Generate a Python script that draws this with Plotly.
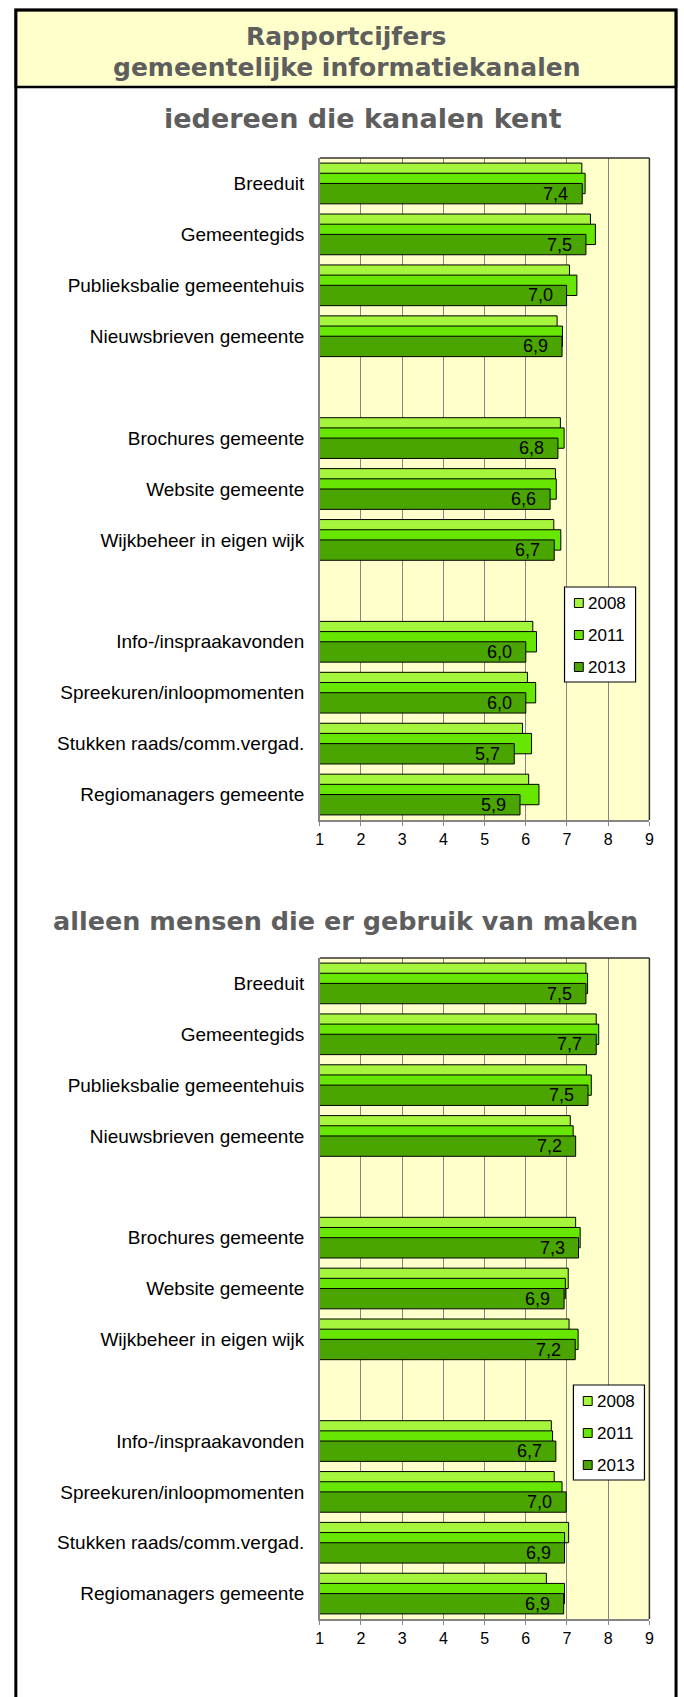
import plotly.graph_objects as go

# ---------------- data ----------------
categories = [
    "Breeduit", "Gemeentegids", "Publieksbalie gemeentehuis", "Nieuwsbrieven gemeente", "",
    "Brochures gemeente", "Website gemeente", "Wijkbeheer in eigen wijk", "",
    "Info-/inspraakavonden", "Spreekuren/inloopmomenten", "Stukken raads/comm.vergad.",
    "Regiomanagers gemeente",
]
years = ["2008", "2011", "2013"]

# panel 1: iedereen die kanalen kent
top_2008 = [7.36, 7.57, 7.06, 6.76, None, 6.84, 6.72, 6.68, None, 6.17, 6.04, 5.92, 6.07]
top_2011 = [7.44, 7.69, 7.24, 6.89, None, 6.93, 6.74, 6.85, None, 6.26, 6.24, 6.14, 6.32]
top_2013 = [7.37, 7.46, 6.99, 6.88, None, 6.78, 6.59, 6.69, None, 6.00, 6.00, 5.72, 5.86]

# panel 2: alleen mensen die er gebruik van maken
bot_2008 = [7.46, 7.71, 7.47, 7.08, None, 7.21, 7.03, 7.05, None, 6.62, 6.69, 7.04, 6.50]
bot_2011 = [7.50, 7.77, 7.59, 7.15, None, 7.32, 6.96, 7.27, None, 6.65, 6.88, 6.94, 6.94]
bot_2013 = [7.46, 7.71, 7.51, 7.21, None, 7.28, 6.93, 7.20, None, 6.73, 6.98, 6.94, 6.92]

x_ticks = [1, 2, 3, 4, 5, 6, 7, 8, 9]

title_lines = ["Rapportcijfers", "gemeentelijke informatiekanalen"]
subtitles = ["iedereen die kanalen kent", "alleen mensen die er gebruik van maken"]

# ---------------- styling ----------------
W, H = 684, 1697
def px(x):
    return x / W
def py(y):
    return 1 - y / H

colors = ["#A4F53C", "#66E600", "#4BA500"]
offsets = [-0.4, -0.2, 0.0]
BAR_W = 0.4
LABEL_FONT = "Liberation Sans, Arial, sans-serif"
TITLE_FONT = "DejaVu Sans, Verdana, sans-serif"
TITLE_COLOR = "#5E5E5E"
GRID = "#858585"

pos = list(range(len(categories)))
tick_pos = [p for p, c in zip(pos, categories) if c]
tick_txt = [c for c in categories if c]

fig = go.Figure()

panels = [
    dict(series=[top_2008, top_2011, top_2013], xa="x", ya="y",
         dom=(py(820), py(158)), sub_xy=(364, 118), sub_size=27, leg_box=(568, 587, 640, 682)),
    dict(series=[bot_2008, bot_2011, bot_2013], xa="x2", ya="y2",
         dom=(py(1619), py(958)), sub_xy=(346.5, 921), sub_size=25.5, leg_box=(577, 1385, 649, 1480)),
]

annotations = []
shapes = []
for k, p in enumerate(panels):
    for yr, vals, off, col in zip(years, p["series"], offsets, colors):
        fig.add_trace(go.Bar(
            y=pos, x=vals, orientation="h", offset=off, width=BAR_W,
            marker=dict(color=col, line=dict(color="black", width=1)),
            name=yr, showlegend=False,
            xaxis=p["xa"], yaxis=p["ya"], hoverinfo="skip",
        ))
    # data labels for the last year
    for i, v in enumerate(p["series"][2]):
        if v is None:
            continue
        annotations.append(dict(
            x=v, y=i + offsets[2] + BAR_W / 2, xref=p["xa"], yref=p["ya"],
            text=f"{v:.1f}".replace(".", ","), showarrow=False,
            xanchor="right", yanchor="middle", xshift=-12,
            font=dict(family=LABEL_FONT, size=18, color="black"),
        ))
    # subtitle
    annotations.append(dict(
        x=px(p["sub_xy"][0]), y=py(p["sub_xy"][1]), xref="paper", yref="paper",
        text=subtitles[k], showarrow=False, xanchor="center", yanchor="middle",
        font=dict(family=TITLE_FONT, size=p["sub_size"], color=TITLE_COLOR, weight="bold"),
    ))
    # legend box
    lx0, ly0, lx1, ly1 = p["leg_box"]
    shapes.append(dict(type="rect", xref="paper", yref="paper",
                       x0=px(lx0), x1=px(lx1), y0=py(ly1), y1=py(ly0),
                       fillcolor="white", line=dict(color="black", width=1.2), layer="above"))
    for j, (yr, col) in enumerate(zip(years, colors)):
        cy = ly0 + 16 + 32 * j
        shapes.append(dict(type="rect", xref="paper", yref="paper",
                           x0=px(lx0 + 10), x1=px(lx0 + 19), y0=py(cy + 4.5), y1=py(cy - 4.5),
                           fillcolor=col, line=dict(color="black", width=1), layer="above"))
        annotations.append(dict(
            x=px(lx0 + 22), y=py(cy), xref="paper", yref="paper", text=yr,
            showarrow=False, xanchor="left", yanchor="middle",
            font=dict(family=LABEL_FONT, size=17, color="black"),
        ))

for line, yy in zip(title_lines, [36, 68]):
    annotations.append(dict(
        x=px(347), y=py(yy), xref="paper", yref="paper", text=line,
        showarrow=False, xanchor="center", yanchor="middle",
        font=dict(family=TITLE_FONT, size=25, color=TITLE_COLOR, weight="bold"),
    ))

shapes += [
    # title box
    dict(type="rect", xref="paper", yref="paper", x0=px(12), x1=px(681), y0=py(87), y1=py(10),
         fillcolor="#FFFFCC", line=dict(color="black", width=2.5), layer="below"),
    # outer frame
    dict(type="rect", xref="paper", yref="paper", x0=px(12), x1=px(681), y0=py(1710), y1=py(10),
         fillcolor="rgba(0,0,0,0)", line=dict(color="black", width=3), layer="above"),
]
for ax in ["", "2"]:
    shapes.append(dict(type="line", xref=f"x{ax} domain", yref=f"y{ax} domain",
                       x0=0, x1=1, y0=1, y1=1, line=dict(color="#333333", width=1.5)))
    shapes.append(dict(type="line", xref=f"x{ax} domain", yref=f"y{ax} domain",
                       x0=1, x1=1, y0=0, y1=1, line=dict(color="#333333", width=1.5)))

xaxis_common = dict(
    range=[1, 9], tickvals=x_ticks, showgrid=True, gridcolor=GRID, gridwidth=1,
    showline=True, linecolor=GRID, linewidth=1.5, ticks="outside", ticklen=4,
    tickcolor=GRID, tickwidth=1, zeroline=False, fixedrange=True,
    tickfont=dict(family=LABEL_FONT, size=16, color="black"),
    domain=[px(320), px(654)],
)
yaxis_common = dict(
    range=[12.5, -0.5], tickvals=tick_pos, ticktext=tick_txt, showgrid=False,
    showline=True, linecolor=GRID, linewidth=1.5, ticks="", zeroline=False,
    fixedrange=True, ticklabelstandoff=10,
    tickfont=dict(family=LABEL_FONT, size=19, color="black"),
)

fig.update_layout(
    width=W, height=H, margin=dict(l=0, r=0, t=0, b=0),
    paper_bgcolor="white", plot_bgcolor="#FFFFCC",
    barmode="overlay", showlegend=False,
    xaxis=dict(**xaxis_common, anchor="y"),
    yaxis=dict(**yaxis_common, anchor="x", domain=list(panels[0]["dom"])),
    xaxis2=dict(**xaxis_common, anchor="y2"),
    yaxis2=dict(**yaxis_common, anchor="x2", domain=list(panels[1]["dom"])),
    annotations=annotations, shapes=shapes,
)

fig.write_html(
    "out.html",
    config={"displayModeBar": False},
    post_script="document.body.style.margin='0';document.body.style.overflow='hidden';",
)
